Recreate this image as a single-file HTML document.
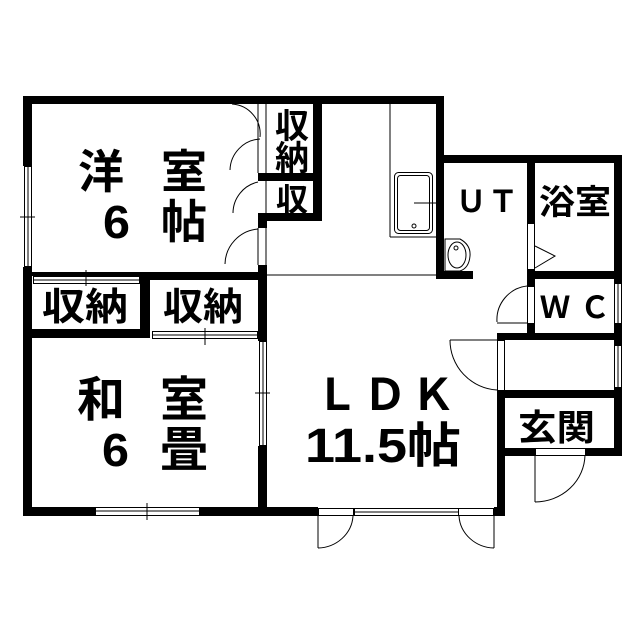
<!DOCTYPE html>
<html><head><meta charset="utf-8"><style>
html,body{margin:0;padding:0;background:#fff;}
svg{display:block;}
text{font-family:"Liberation Sans","Noto Sans CJK JP",sans-serif;fill:#000;}
</style></head><body>
<svg width="640" height="640" viewBox="0 0 640 640" xmlns="http://www.w3.org/2000/svg">
<rect width="640" height="640" fill="#fff"/>
<g fill="#000">
<rect x="23" y="96" width="421" height="8"/>
<rect x="23" y="96" width="9" height="70"/>
<rect x="23" y="267" width="9" height="249"/>
<rect x="436" y="96" width="8" height="183"/>
<rect x="436" y="271" width="37" height="8"/>
<rect x="436" y="155" width="186" height="8"/>
<rect x="614" y="155" width="8" height="128"/>
<rect x="614" y="323" width="8" height="22"/>
<rect x="614" y="387" width="8" height="69"/>
<rect x="527" y="155" width="8" height="68"/>
<rect x="527" y="269" width="8" height="17"/>
<rect x="527" y="323" width="8" height="15"/>
<rect x="527" y="271" width="95" height="8"/>
<rect x="497" y="333" width="125" height="7"/>
<rect x="497" y="333" width="8" height="7"/>
<rect x="497" y="390" width="8" height="126"/>
<rect x="504" y="390" width="117" height="8"/>
<rect x="504" y="448" width="31" height="8"/>
<rect x="585" y="448" width="36" height="8"/>
<rect x="313" y="96" width="9" height="125"/>
<rect x="258" y="173" width="64" height="8"/>
<rect x="258" y="213" width="64" height="8"/>
<rect x="258" y="173" width="9" height="8"/>
<rect x="258" y="213" width="9" height="15"/>
<rect x="258" y="265" width="9" height="76"/>
<rect x="258" y="446" width="9" height="70"/>
<rect x="23" y="272" width="244" height="4"/>
<rect x="140" y="272" width="127" height="8"/>
<rect x="140" y="272" width="10" height="66"/>
<rect x="23" y="329" width="127" height="9"/>
<rect x="23" y="507" width="72" height="9"/>
<rect x="199" y="507" width="119" height="9"/>
<rect x="494" y="507" width="10" height="9"/>
</g>
<g fill="none" stroke="#000" stroke-width="1">
<rect x="24.5" y="166.5" width="7" height="100"/><line x1="28" y1="166" x2="28" y2="267"/><line x1="20" y1="217" x2="35" y2="217"/>
<rect x="33.5" y="276.5" width="106" height="7"/><line x1="33" y1="280" x2="140" y2="280"/><line x1="86" y1="270" x2="86" y2="286"/>
<rect x="152.5" y="331.5" width="105" height="7"/><line x1="152" y1="335" x2="258" y2="335"/><line x1="205" y1="328" x2="205" y2="345"/>
<rect x="259.5" y="341.5" width="7" height="104"/><line x1="263" y1="341" x2="263" y2="446"/><line x1="255" y1="393" x2="270" y2="393"/>
<rect x="95.5" y="507.5" width="104" height="8"/><line x1="95" y1="511" x2="200" y2="511"/><line x1="147" y1="503" x2="147" y2="520"/>
<rect x="354.5" y="508.5" width="104" height="7"/><line x1="354" y1="512" x2="458" y2="512"/>
<rect x="614.5" y="283.5" width="7" height="40"/><line x1="618" y1="283" x2="618" y2="323"/>
<rect x="614.5" y="345.5" width="7" height="42"/><line x1="618" y1="345" x2="618" y2="387"/>
<line x1="258" y1="104" x2="258" y2="173"/><line x1="266" y1="104" x2="266" y2="173"/>
<line x1="266" y1="181" x2="266" y2="213"/>
<line x1="266" y1="228" x2="266" y2="265"/>
<line x1="258" y1="228" x2="258" y2="265"/>
<path d="M232 104 A30 30 0 0 1 260 137"/>
<path d="M230 170 A32 32 0 0 1 260 139"/>
<path d="M233 213 A32 32 0 0 1 258 182"/>
<path d="M225 264 A36 36 0 0 1 258 229"/>
<line x1="266" y1="275" x2="436" y2="275"/>
<line x1="390" y1="104" x2="390" y2="237"/><line x1="390" y1="237" x2="436" y2="237"/>
<rect x="394.5" y="172.5" width="38" height="61" rx="4"/>
<rect x="397.5" y="175.5" width="32" height="55" rx="3"/>
<line x1="414" y1="203" x2="436" y2="203"/><circle cx="414" cy="226" r="2"/>
<path d="M445 239 L460 239 Q471 245 470 256 Q469 268 460 271 L445 271 Z"/>
<ellipse cx="457" cy="255" rx="9" ry="13"/><circle cx="456" cy="248" r="2"/>
<rect x="527.5" y="223.5" width="7" height="46"/>
<polyline points="535,246 555,256 535,268"/>
<rect x="527.5" y="286.5" width="7" height="37"/>
<path d="M527 286 A34 34 0 0 0 497 322"/><line x1="497" y1="323" x2="527" y2="323"/>
<rect x="497.5" y="340.5" width="7" height="50"/>
<path d="M450 340 A50 50 0 0 0 497 390"/><line x1="450" y1="340" x2="497" y2="340"/>
<rect x="535.5" y="448.5" width="50" height="7"/>
<line x1="535" y1="456" x2="535" y2="502"/>
<path d="M535 502 A50 48 0 0 0 585 455"/>
<rect x="318.5" y="508.5" width="35" height="7"/>
<line x1="318" y1="516" x2="318" y2="548"/>
<path d="M318 548 A36 34 0 0 0 353 516"/>
<rect x="458.5" y="508.5" width="35" height="7"/>
<line x1="494" y1="516" x2="494" y2="548"/>
<path d="M494 548 A36 34 0 0 1 459 516"/>
</g>
<g font-weight="bold">
<text x="78" y="188" font-size="46">洋</text>
<text x="161" y="188" font-size="46">室</text>
<text x="103" y="238" font-size="46" textLength="27" lengthAdjust="spacingAndGlyphs">6</text>
<text x="161" y="238" font-size="46">帖</text>
<text x="77" y="416" font-size="48">和</text>
<text x="160" y="416" font-size="48">室</text>
<text x="102" y="466" font-size="46" textLength="27" lengthAdjust="spacingAndGlyphs">6</text>
<text x="160" y="466" font-size="48">畳</text>
<text x="315" y="410" font-size="44" textLength="140" lengthAdjust="spacing">ＬＤＫ</text>
<text x="305" y="462" font-size="48" textLength="156" lengthAdjust="spacingAndGlyphs">11.5帖</text>
<text x="275" y="138" font-size="34">収</text>
<text x="275" y="170" font-size="34">納</text>
<text x="276" y="211" font-size="32">収</text>
<text x="42" y="320" font-size="38" textLength="86" lengthAdjust="spacingAndGlyphs">収納</text>
<text x="163" y="320" font-size="38" textLength="80" lengthAdjust="spacingAndGlyphs">収納</text>
<text x="456" y="212" font-size="30" textLength="62" lengthAdjust="spacing">ＵＴ</text>
<text x="539" y="214" font-size="34" textLength="72" lengthAdjust="spacingAndGlyphs">浴室</text>
<text x="540" y="318" font-size="30" textLength="70" lengthAdjust="spacing">ＷＣ</text>
<text x="518" y="440" font-size="36" textLength="77" lengthAdjust="spacingAndGlyphs">玄関</text>
</g>
</svg>
</body></html>
